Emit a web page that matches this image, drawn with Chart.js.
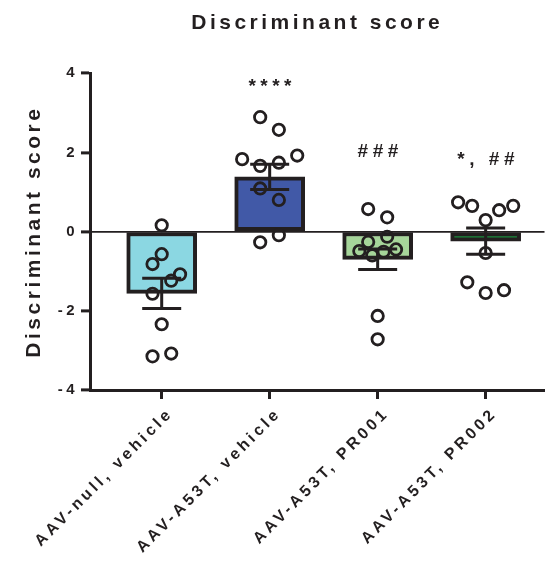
<!DOCTYPE html>
<html>
<head>
<meta charset="utf-8">
<script src="https://cdn.jsdelivr.net/npm/chart.js@4.4.0/dist/chart.umd.min.js"></script>
<style>
  html, body { margin: 0; padding: 0; background: #fff; }
</style>
</head>
<body>
<canvas id="chart" width="553" height="561"></canvas>
<script>
// Grupos e médias
const groups = ['AAV-null, vehicle', 'AAV-A53T, vehicle', 'AAV-A53T, PR001', 'AAV-A53T, PR002'];
const means = [-1.56, 1.38, -0.70, -0.24];
const sems = [0.38, 0.32, 0.26, 0.33];
const barColors = ['#8bd7e2', '#4159a7', '#a6d59a', '#1c8b3d'];
const yTicks = [-4, -2, 0, 2, 4];

// Marcas de significância
const marks = ['', '****', '###', '*, ##'];
const markY = [null, 3.67, 2.02, 1.81];

// Valores individuais (e espalhamento horizontal de cada ponto)
const pointsNull = [0.16, -0.57, -0.82, -1.08, -1.24, -1.57, -2.34, -3.15, -3.08];
const spreadNull = [0, 0, -0.085, 0.17, 0.088, -0.085, 0, -0.085, 0.088];
const pointsVehicle = [2.89, 2.57, 1.83, 1.66, 1.74, 1.92, 1.09, 0.80, -0.27, -0.09];
const spreadVehicle = [-0.088, 0.085, -0.255, -0.088, 0.085, 0.255, -0.088, 0.085, -0.088, 0.085];
const pointsPR001 = [0.57, 0.36, -0.13, -0.26, -0.49, -0.45, -0.60, -0.51, -2.13, -2.72];
const spreadPR001 = [-0.088, 0.088, 0.088, -0.088, -0.17, 0.17, -0.05, 0.055, 0, 0];
const pointsPR002 = [0.74, 0.65, 0.29, 0.54, 0.65, -0.54, -1.28, -1.55, -1.48];
const spreadPR002 = [-0.255, -0.125, 0, 0.125, 0.255, 0, -0.17, 0, 0.17];

const allPoints = [pointsNull, pointsVehicle, pointsPR001, pointsPR002];
const allSpread = [spreadNull, spreadVehicle, spreadPR001, spreadPR002];

const ink = '#231f20';
Chart.defaults.font.family = '"Liberation Sans", Arial, sans-serif';
Chart.defaults.color = ink;

// Espaçamento entre letras (como no original)
const letterSpacing = {
    id: 'letterSpacing',
    beforeUpdate(chart) { chart.ctx.letterSpacing = '3.5px'; },
    beforeDraw(chart) { chart.ctx.letterSpacing = '3.5px'; }
};

// Barras de erro (média ± EPM)
const errorBars = {
    id: 'errorBars',
    afterDatasetsDraw(chart) {
        const { ctx, scales: { x, y } } = chart;
        ctx.save();
        ctx.strokeStyle = ink;
        ctx.lineWidth = 3;
        means.forEach((m, i) => {
            const px = x.getPixelForValue(i);
            const top = y.getPixelForValue(m + sems[i]);
            const bot = y.getPixelForValue(m - sems[i]);
            ctx.beginPath();
            ctx.moveTo(px, top); ctx.lineTo(px, bot);
            ctx.moveTo(px - 19.5, top); ctx.lineTo(px + 19.5, top);
            ctx.moveTo(px - 19.5, bot); ctx.lineTo(px + 19.5, bot);
            ctx.stroke();
        });
        ctx.restore();
    }
};

// Texto de significância acima dos grupos
const sigMarks = {
    id: 'sigMarks',
    afterDatasetsDraw(chart) {
        const { ctx, scales: { x, y } } = chart;
        ctx.save();
        ctx.font = 'bold 19px "Liberation Sans", Arial, sans-serif';
        ctx.letterSpacing = '4.5px';
        ctx.fillStyle = ink;
        ctx.textAlign = 'center';
        ctx.textBaseline = 'middle';
        marks.forEach((t, i) => {
            if (!t) return;
            ctx.fillText(t, x.getPixelForValue(i) + 2.5, y.getPixelForValue(markY[i]));
        });
        ctx.restore();
    }
};

const scatterSets = allPoints.map((vals, i) => ({
    type: 'scatter',
    order: 1,
    data: vals.map((v, k) => ({ x: i + allSpread[i][k], y: v })),
    backgroundColor: 'rgba(0,0,0,0)',
    borderColor: ink,
    borderWidth: 2.8,
    pointRadius: 5.7
}));

new Chart(document.getElementById('chart'), {
    type: 'bar',
    data: {
        datasets: [{
            type: 'bar',
            order: 2,
            data: means.map((m, i) => ({ x: i, y: m })),
            backgroundColor: barColors,
            borderColor: ink,
            borderWidth: 4,
            borderSkipped: false,
            barThickness: 70
        }, ...scatterSets]
    },
    options: {
        responsive: false,
        animation: false,
        layout: { padding: { left: 20, right: 0, top: 0, bottom: 0 } },
        plugins: {
            legend: { display: false },
            tooltip: { enabled: false },
            title: {
                display: true,
                text: 'Discriminant score',
                fullSize: false,
                font: { size: 21, weight: 'bold' },
                color: ink,
                padding: { top: 11, bottom: 37 }
            }
        },
        scales: {
            x: {
                type: 'linear',
                offset: false,
                min: -0.664,
                max: 3.545,
                afterBuildTicks: s => { s.ticks = groups.map((g, i) => ({ value: i })); },
                afterFit: s => { s.height = 171; },
                ticks: {
                    callback: v => groups[v],
                    minRotation: 45,
                    maxRotation: 45,
                    autoSkip: false,
                    font: { size: 16, weight: 'bold' },
                    color: ink,
                    padding: 5,
                    labelOffset: 9
                },
                grid: {
                    offset: false,
                    drawOnChartArea: false,
                    tickLength: 9,
                    tickWidth: 3,
                    tickColor: ink
                },
                border: { display: true, color: ink, width: 3 }
            },
            y: {
                min: -4,
                max: 4,
                afterBuildTicks: s => { s.ticks = yTicks.map(v => ({ value: v })); },
                afterFit: s => { s.width = 70; },
                ticks: {
                    font: { size: 15, weight: 'bold' },
                    color: ink,
                    padding: 3
                },
                grid: {
                    color: c => (c.tick && c.tick.value === 0 ? ink : 'rgba(0,0,0,0)'),
                    lineWidth: 1.8,
                    tickLength: 9,
                    tickWidth: 3,
                    tickColor: ink
                },
                border: { display: true, color: ink, width: 3 },
                title: {
                    display: true,
                    text: 'Discriminant score',
                    font: { size: 21, weight: 'bold' },
                    color: ink,
                    padding: { top: 2, bottom: 0 }
                }
            }
        }
    },
    plugins: [letterSpacing, errorBars, sigMarks]
});
</script>
</body>
</html>
